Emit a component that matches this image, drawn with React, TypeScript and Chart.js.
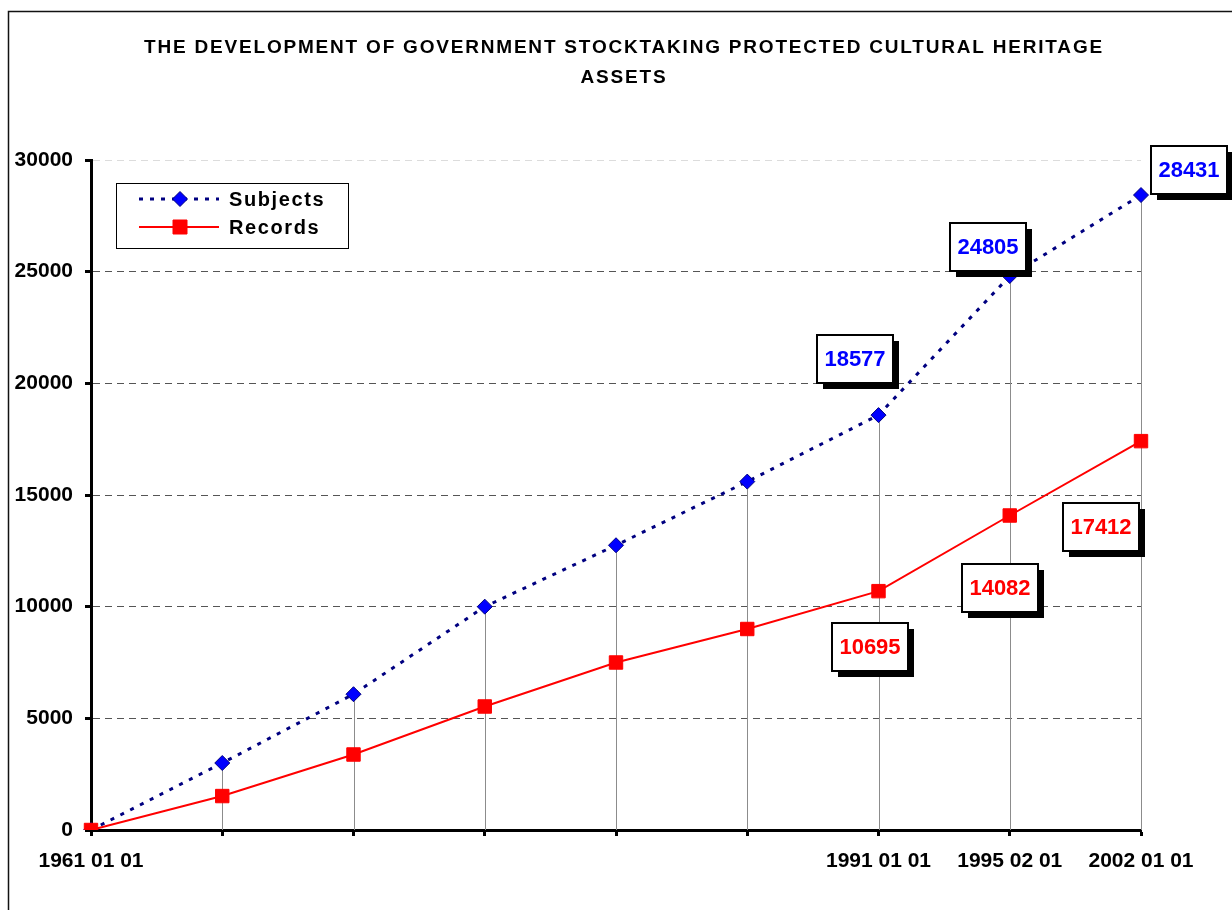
import React, { useEffect, useRef } from "react";
import { Chart, registerables } from "chart.js";

Chart.register(...registerables);

const TITLE_LINES = [
  "THE DEVELOPMENT OF GOVERNMENT STOCKTAKING PROTECTED CULTURAL HERITAGE",
  "ASSETS",
];
const categories = [
  "1961 01 01",
  "",
  "",
  "",
  "",
  "",
  "1991 01 01",
  "1995 02 01",
  "2002 01 01",
];
const subjects = [0, 3000, 6080, 10000, 12750, 15600, 18577, 24805, 28431];
const records = [0, 1520, 3380, 5530, 7500, 9000, 10695, 14082, 17412];
const yTicks = { min: 0, max: 30000, step: 5000 };

// label box offsets (pixels from the point), null = no label
const subjectLabelOffsets: ([number, number] | null)[] = [
  null, null, null, null, null, null, [-24, -56], [-22, -29], [48, -25],
];
const recordLabelOffsets: ([number, number] | null)[] = [
  null, null, null, null, null, null, [-9, 56], [-10, 72], [-40, 86],
];

const FONT = '"Liberation Sans", Arial, sans-serif';
const BLUE = "#0000FF";
const NAVY = "#000080";
const RED = "#FF0000";

const framePlugin = {
  id: "frame",
  beforeDraw(chart: any) {
    const ctx = chart.ctx;
    ctx.save();
    ctx.fillStyle = "#fff";
    ctx.fillRect(0, 0, chart.width, chart.height);
    ctx.strokeStyle = "#111";
    ctx.lineWidth = 1.5;
    ctx.beginPath();
    ctx.moveTo(8.5, chart.height);
    ctx.lineTo(8.5, 11.5);
    ctx.lineTo(chart.width, 11.5);
    ctx.stroke();
    ctx.fillStyle = "#000";
    ctx.font = `bold 19px ${FONT}`;
    (ctx as any).letterSpacing = "1.8px";
    ctx.textAlign = "center";
    ctx.textBaseline = "middle";
    TITLE_LINES.forEach((t, i) => ctx.fillText(t, 624, 48 + i * 30));
    ctx.restore();
  },
};

const dropLinePlugin = {
  id: "dropLines",
  beforeDatasetsDraw(chart: any) {
    const ctx = chart.ctx;
    const x = chart.scales.x;
    const y = chart.scales.y;
    ctx.save();
    ctx.strokeStyle = "#8c8c8c";
    ctx.lineWidth = 1;
    for (let i = 1; i < categories.length; i++) {
      const top = Math.max(subjects[i], records[i]);
      const px = Math.round(x.getPixelForValue(i)) + 0.5;
      ctx.beginPath();
      ctx.moveTo(px, y.getPixelForValue(top));
      ctx.lineTo(px, y.getPixelForValue(0));
      ctx.stroke();
    }
    ctx.restore();
  },
};

const labelPlugin = {
  id: "boxLabels",
  afterDatasetsDraw(chart: any) {
    const ctx = chart.ctx;
    const sets = [
      { data: subjects, offs: subjectLabelOffsets, color: BLUE, meta: chart.getDatasetMeta(0) },
      { data: records, offs: recordLabelOffsets, color: RED, meta: chart.getDatasetMeta(1) },
    ];
    const w = 76;
    const h = 48;
    ctx.save();
    for (const s of sets) {
      s.data.forEach((v, i) => {
        const off = s.offs[i];
        if (!off) return;
        const pt = s.meta.data[i];
        const cx = pt.x + off[0];
        const cy = pt.y + off[1];
        const l = Math.round(cx - w / 2);
        const t = Math.round(cy - h / 2);
        ctx.fillStyle = "#000";
        ctx.fillRect(l + 6, t + 6, w, h);
        ctx.fillStyle = "#fff";
        ctx.fillRect(l, t, w, h);
        ctx.strokeStyle = "#000";
        ctx.lineWidth = 2;
        ctx.strokeRect(l, t, w, h);
        ctx.fillStyle = s.color;
        ctx.font = `bold 22px ${FONT}`;
        ctx.textAlign = "center";
        ctx.textBaseline = "middle";
        ctx.fillText(String(v), l + w / 2, t + h / 2 + 1);
      });
    }
    ctx.restore();
  },
};

const legendPlugin = {
  id: "boxLegend",
  afterDraw(chart: any) {
    const ctx = chart.ctx;
    ctx.save();
    ctx.fillStyle = "#fff";
    ctx.fillRect(116, 183, 232, 65);
    ctx.strokeStyle = "#000";
    ctx.lineWidth = 1;
    ctx.strokeRect(116.5, 183.5, 232, 65);
    const ds = chart.data.datasets;
    const rows = [199, 227];
    rows.forEach((ry, k) => {
      const d = ds[k];
      ctx.strokeStyle = d.borderColor;
      ctx.lineWidth = d.borderWidth;
      ctx.setLineDash(d.borderDash || []);
      ctx.beginPath();
      ctx.moveTo(139, ry);
      ctx.lineTo(219, ry);
      ctx.stroke();
      ctx.setLineDash([]);
      ctx.fillStyle = d.pointBackgroundColor;
      ctx.strokeStyle = d.pointBorderColor;
      ctx.lineWidth = 1;
      ctx.beginPath();
      if (d.pointStyle === "rectRot") {
        const r = 7.5;
        ctx.moveTo(180, ry - r);
        ctx.lineTo(180 + r, ry);
        ctx.lineTo(180, ry + r);
        ctx.lineTo(180 - r, ry);
        ctx.closePath();
      } else {
        ctx.rect(173, ry - 7, 14, 14);
      }
      ctx.fill();
      ctx.stroke();
      ctx.fillStyle = "#000";
      ctx.font = `bold 20px ${FONT}`;
      (ctx as any).letterSpacing = "1.6px";
      ctx.textAlign = "left";
      ctx.textBaseline = "middle";
      ctx.fillText(d.label, 229, ry + 1);
      (ctx as any).letterSpacing = "0px";
    });
    ctx.restore();
  },
};

export default function App() {
  const ref = useRef<HTMLCanvasElement | null>(null);
  useEffect(() => {
    if (!ref.current) return;
    const chart = new Chart(ref.current, {
      type: "line",
      data: {
        labels: categories,
        datasets: [
          {
            label: "Subjects",
            data: subjects,
            borderColor: NAVY,
            borderWidth: 3,
            borderDash: [4, 7],
            pointStyle: "rectRot",
            pointRadius: 7.5,
            pointBackgroundColor: BLUE,
            pointBorderColor: NAVY,
            pointBorderWidth: 1,
            tension: 0,
            order: 1,
          } as any,
          {
            label: "Records",
            data: records,
            borderColor: RED,
            borderWidth: 2,
            pointStyle: "rect",
            pointRadius: 9.5,
            pointBackgroundColor: RED,
            pointBorderColor: RED,
            pointBorderWidth: 1,
            tension: 0,
            order: 0,
          } as any,
        ],
      },
      options: {
        responsive: false,
        animation: false,
        devicePixelRatio: 1,
        layout: { padding: { top: 160, left: 0, right: 91, bottom: 0 } },
        plugins: {
          legend: { display: false },
          title: { display: false },
          tooltip: { enabled: false },
        },
        scales: {
          x: {
            type: "category",
            offset: false,
            afterFit: (s: any) => {
              s.height = 80;
            },
            grid: {
              display: true,
              drawOnChartArea: false,
              drawTicks: true,
              tickColor: "#000",
              tickWidth: 3,
              tickLength: 6,
            },
            border: { display: true, color: "#000", width: 3 },
            ticks: {
              autoSkip: false,
              maxRotation: 0,
              color: "#000",
              padding: 13,
              font: { family: FONT, size: 21, weight: "bold" },
            },
          },
          y: {
            min: yTicks.min,
            max: yTicks.max,
            afterFit: (s: any) => {
              s.width = 91;
            },
            grid: {
              display: true,
              drawOnChartArea: true,
              color: (c: any) => (c.tick && c.tick.value === yTicks.max ? "#dcdcdc" : "#555"),
              lineWidth: 1,
              drawTicks: true,
              tickColor: "#000",
              tickWidth: 3,
              tickLength: 6,
            },
            border: { display: true, color: "#000", width: 3, dash: [7, 5] },
            ticks: {
              stepSize: yTicks.step,
              color: "#000",
              padding: 12,
              callback: (v: any) => String(v),
              font: { family: FONT, size: 21, weight: "bold" },
            },
          },
        },
      },
      plugins: [framePlugin, dropLinePlugin, labelPlugin, legendPlugin],
    } as any);
    return () => chart.destroy();
  }, []);
  return (
    <div style={{ position: "fixed", left: 0, top: 0, width: 1232, height: 910, background: "#fff" }}>
      <canvas ref={ref} width={1232} height={910} style={{ display: "block" }} />
    </div>
  );
}
